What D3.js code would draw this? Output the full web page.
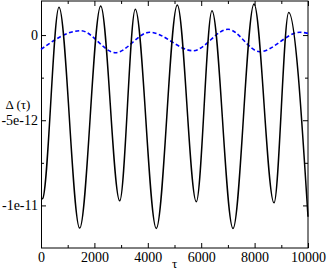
<!DOCTYPE html>
<html>
<head>
<meta charset="utf-8">
<script src="https://cdn.jsdelivr.net/npm/d3@7"></script>
<style>
  body { margin: 0; background: #fff; }
  svg { display: block; }
  text { font-family: "Liberation Serif", "DejaVu Serif", serif; fill: #000; }
</style>
</head>
<body>
<svg width="327" height="274"></svg>
<script>
// values
const tauBlack = [0, 60, 674, 1449, 2236, 2948, 3532, 4318, 5105, 5816, 6404, 7191, 7978, 8727, 9277, 10000];
const deltaBlack = [-9.63e-12, -9.6e-12, 1.63e-12, -11.33e-12, 1.71e-12, -9.73e-12, 1.51e-12, -11.35e-12,
  1.77e-12, -9.78e-12, 1.43e-12, -11.35e-12, 1.82e-12, -9.85e-12, 1.33e-12, -10.67e-12];

const tauBlue = [0, 1487, 2783, 4071, 5693, 7004, 8191, 9700, 10000];
const deltaBlue = [-0.835e-12, 0.257e-12, -1.035e-12, 0.163e-12, -0.918e-12, 0.339e-12, -0.977e-12, 0.163e-12, 0.1e-12];

const xTicks = [0, 2000, 4000, 6000, 8000, 10000];
const xTickLabels = ["0", "2000", "4000", "6000", "8000", "10000"];
const xMinor = [1000, 3000, 5000, 7000, 9000];
const yTicks = [0, -5e-12, -1e-11];
const yTickLabels = ["0", "-5e-12", "-1e-11"];
const yMinor = [-2.5e-12, -7.5e-12];

const svg = d3.select("svg");
const plotLeft = 41, plotRight = 308, plotTop = 1, plotBottom = 248;

const x = d3.scaleLinear().domain([0, 10000]).range([plotLeft, plotRight]);
const y = d3.scaleLinear().domain([-1.25e-11, 2e-12]).range([plotBottom, plotTop]);

const fmtX = (d) => xTickLabels[xTicks.indexOf(d)];
const fmtY = (d) => yTickLabels[yTicks.indexOf(d)];

// ticks, mirrored on all four sides, pointing inward
function axisGroup(axis, tx, ty) {
  const g = svg.append("g").attr("transform", `translate(${tx},${ty})`).call(axis);
  g.select(".domain").remove();
  g.selectAll("line").attr("stroke", "#000");
  g.selectAll("text").attr("font-size", 14).attr("font-family", "Liberation Serif");
  return g;
}

axisGroup(d3.axisBottom(x).tickValues(xTicks).tickSize(-5).tickPadding(4).tickFormat(fmtX), 0, plotBottom);
axisGroup(d3.axisBottom(x).tickValues(xMinor).tickSize(-3).tickFormat(""), 0, plotBottom);
axisGroup(d3.axisTop(x).tickValues(xTicks).tickSize(-5).tickFormat(""), 0, plotTop);
axisGroup(d3.axisTop(x).tickValues(xMinor).tickSize(-3).tickFormat(""), 0, plotTop);

axisGroup(d3.axisLeft(y).tickValues(yTicks).tickSize(-5).tickPadding(3).tickFormat(fmtY), plotLeft, 0);
axisGroup(d3.axisLeft(y).tickValues(yMinor).tickSize(-3).tickFormat(""), plotLeft, 0);
axisGroup(d3.axisRight(y).tickValues(yTicks).tickSize(-5).tickFormat(""), plotRight, 0);
axisGroup(d3.axisRight(y).tickValues(yMinor).tickSize(-3).tickFormat(""), plotRight, 0);

// frame
svg.append("rect")
  .attr("x", plotLeft + 0.5)
  .attr("y", plotTop)
  .attr("width", plotRight - plotLeft - 0.5)
  .attr("height", plotBottom - plotTop)
  .attr("fill", "none")
  .attr("stroke", "#000")
  .attr("stroke-width", 1);

const line = d3.line()
  .x((d) => x(d[0]))
  .y((d) => y(d[1]))
  .curve(d3.curveMonotoneX);

svg.append("path")
  .datum(tauBlue.map((t, i) => [t, deltaBlue[i]]))
  .attr("d", line)
  .attr("fill", "none")
  .attr("stroke", "#0000ff")
  .attr("stroke-width", 1.6)
  .attr("stroke-dasharray", "4,2.5");

svg.append("path")
  .datum(tauBlack.map((t, i) => [t, deltaBlack[i]]))
  .attr("d", line)
  .attr("fill", "none")
  .attr("stroke", "#000")
  .attr("stroke-width", 1.5);

// axis labels
svg.append("text")
  .attr("x", (plotLeft + plotRight) / 2)
  .attr("y", 268)
  .attr("text-anchor", "middle")
  .attr("font-size", 13)
  .text("τ");

svg.append("text")
  .attr("x", 18)
  .attr("y", 109)
  .attr("text-anchor", "middle")
  .attr("font-size", 13)
  .text("Δ (τ)");
</script>
</body>
</html>
